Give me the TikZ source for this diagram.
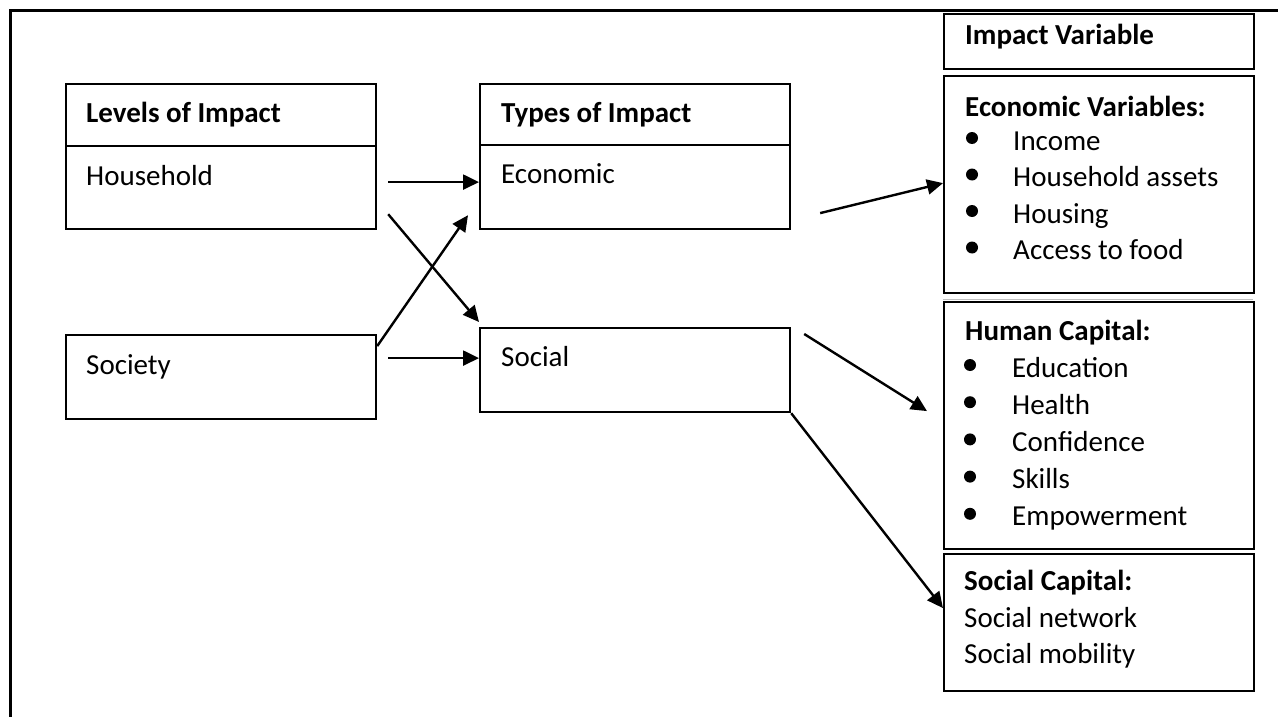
\documentclass[tikz,border=0pt]{standalone}
\usepackage{fontspec}
\setmainfont{Carlito}
\usetikzlibrary{arrows.meta}

\begin{document}
\begin{tikzpicture}[
        x=1pt, y=-1pt,
        box/.style={
            draw=black, line width=2.2pt, anchor=north west,
            minimum width=310pt, inner sep=0pt
        },
        txt/.style={
            anchor=base west, inner sep=0pt,
            font=\fontsize{29}{36}\selectfont
        },
        hdr/.style={txt, font=\fontsize{29}{36}\selectfont\bfseries},
        arr/.style={draw, line width=2.4pt, -{Triangle[length=16pt,width=15pt]}}
    ]

    \useasboundingbox (0,0) rectangle (1278,717);

    % Frame
    \draw[line width=3pt] (10,717) -- (10,11) -- (1278,11);

    % Levels of impact
    \node[box, minimum height=62pt] (lvlhead) at (65,83) {};
    \node[box, minimum height=83pt] (hh) at (65,145) {};
    \node[box, minimum height=84pt] (soc) at (65,334) {};
    \node[hdr] (lvltxt) at (86,122) {Levels of Impact};
    \node[txt] (hhtxt) at (86,185) {Household};
    \node[txt] (soctxt) at (86,374) {Society};

    % Types of impact
    \node[box, minimum height=61pt] (typehead) at (479,83) {};
    \node[box, minimum height=84pt] (eco) at (479,144) {};
    \node[box, minimum height=84pt] (social) at (479,327) {};
    \node[hdr] (typetxt) at (501,122) {Types of Impact};
    \node[txt] (ecotxt) at (501,183) {Economic};
    \node[txt] (socialtxt) at (501,366) {Social};

    % Impact variables
    \node[box, minimum height=55pt] (ivhead) at (943,13) {};
    \node[box, minimum height=217pt] (ecovar) at (943,75) {};
    \draw[black!25, line width=1pt] (943,299) -- (1253,299);
    \node[box, minimum height=247pt] (human) at (943,301) {};
    \node[box, minimum height=137pt] (socap) at (943,553) {};
    \node[hdr] (ivtxt) at (965,45) {Impact Variable};
    \node[hdr] (ecovartxt) at (965,117) {Economic Variables:};
    \node[hdr] (humantxt) at (965,340) {Human Capital:};
    \node[hdr] (socaptxt) at (964,590) {Social Capital:};
    \node[txt] (socap1) at (964,627) {Social network};
    \node[txt] (socap2) at (964,663) {Social mobility};

    % Bullet lists
    \foreach \v [count=\i] in {Income, Household assets, Housing, Access to food} {
        \fill (972, {138+36.5*(\i-1)}) circle (6pt);
        \node[txt] (ev\i) at (1013, {150+36.5*(\i-1)}) {\v};
    }
    \foreach \v [count=\i] in {Education, Health, Confidence, Skills, Empowerment} {
        \fill (970, {365+37.2*(\i-1)}) circle (6pt);
        \node[txt] (hc\i) at (1012, {377+37.2*(\i-1)}) {\v};
    }

    % Arrows
    \draw[arr] ([shift={(11pt,5.5pt)}]hh.east) -- ([yshift=5pt]eco.west);
    \draw[arr] ([shift={(11pt,16pt)}]hh.south east) -- ([yshift=5pt]social.north west);
    \draw[arr] ([yshift=31pt]soc.east) -- ([shift={(-11pt,15pt)}]eco.south west);
    \draw[arr] ([shift={(11pt,19pt)}]soc.east) -- ([yshift=12pt]social.west);
    \draw[arr] ([shift={(29pt,-26pt)}]eco.east) -- ([yshift=1.5pt]ecovar.west);
    \draw[arr] ([shift={(13pt,-7pt)}]social.north east) -- ([shift={(-16pt,14.5pt)}]human.west);
    \draw[arr] (social.south east) -- ([yshift=14.5pt]socap.west);

\end{tikzpicture}
\end{document}
